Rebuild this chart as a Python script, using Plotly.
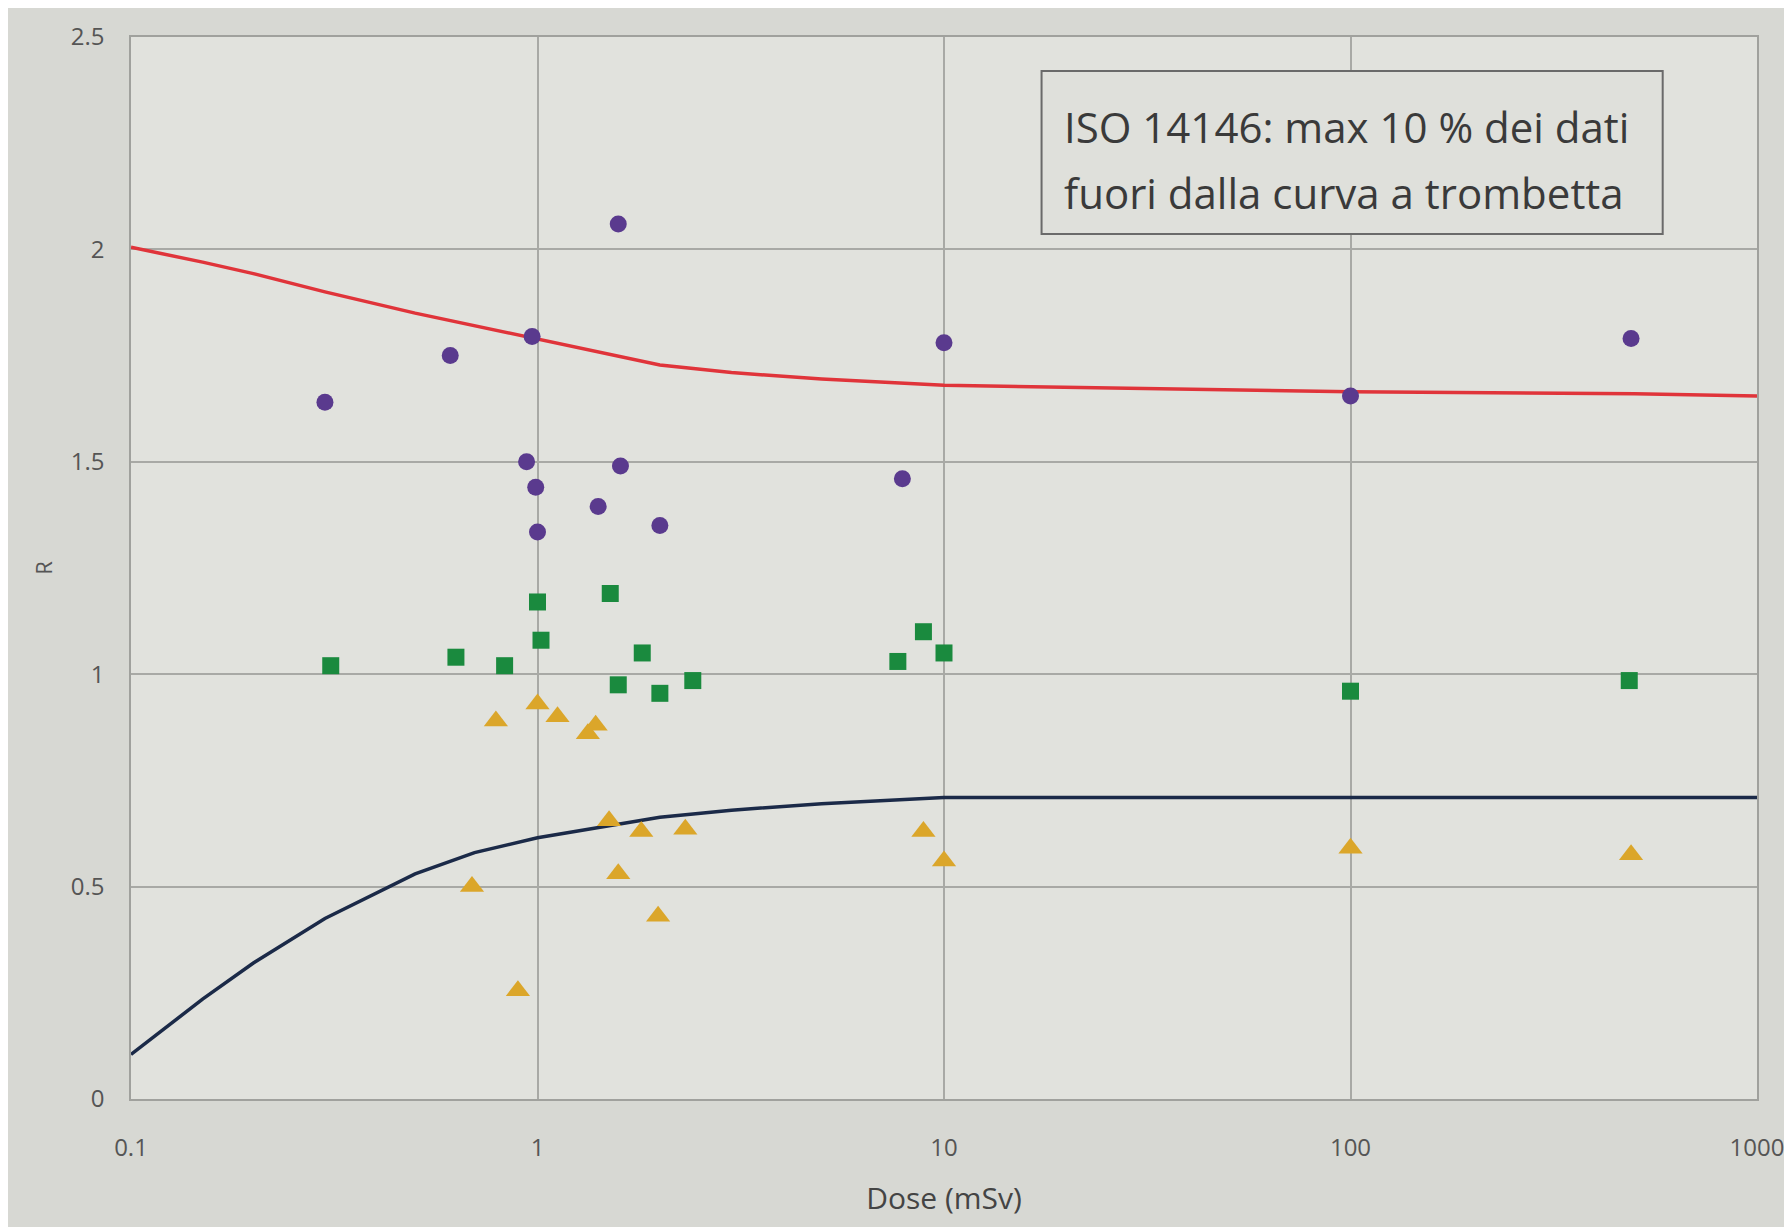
import plotly.graph_objects as go

# ---- data ----
purple_x = [0.30, 0.61, 0.97, 1.58, 0.94, 0.99, 1.0, 1.60, 1.41, 2.0, 7.9, 10, 100, 490]
purple_y = [1.64, 1.75, 1.795, 2.06, 1.50, 1.44, 1.335, 1.49, 1.395, 1.35, 1.46, 1.78, 1.655, 1.79]

green_x = [0.31, 0.63, 0.83, 1.0, 1.02, 1.51, 1.81, 1.58, 2.0, 2.41, 7.7, 8.9, 10, 100, 485]
green_y = [1.02, 1.04, 1.02, 1.17, 1.08, 1.19, 1.05, 0.975, 0.955, 0.985, 1.03, 1.10, 1.05, 0.96, 0.985]

orange_x = [0.79, 1.0, 1.12, 1.33, 1.39, 0.69, 1.80, 2.31, 1.58, 1.98, 0.895, 1.50, 8.9, 10, 100, 490]
orange_y = [0.89, 0.93, 0.90, 0.86, 0.88, 0.50, 0.63, 0.635, 0.53, 0.43, 0.255, 0.655, 0.63, 0.56, 0.59, 0.575]

curve_x = [0.1, 0.15, 0.2, 0.3, 0.5, 0.7, 1, 2, 3, 5, 8, 10, 100, 500, 1000]
upper_y = [2.005, 1.97, 1.943, 1.90, 1.85, 1.82, 1.79, 1.728, 1.71, 1.695, 1.685, 1.68, 1.665, 1.66, 1.655]
lower_y = [0.105, 0.235, 0.32, 0.425, 0.53, 0.58, 0.615, 0.663, 0.68, 0.695, 0.705, 0.71, 0.71, 0.71, 0.71]

x_ticks = [0.1, 1, 10, 100, 1000]
x_ticktext = ["0.1", "1", "10", "100", "1000"]
y_ticks = [0, 0.5, 1, 1.5, 2, 2.5]
y_ticktext = ["0", "0.5", "1", "1.5", "2", "2.5"]

note_lines = ["ISO 14146: max 10 % dei dati", "fuori dalla curva a trombetta"]

fig = go.Figure()
fig.add_trace(go.Scatter(x=curve_x, y=upper_y, mode="lines",
                         line=dict(color="#e0343a", width=3.5), showlegend=False))
fig.add_trace(go.Scatter(x=curve_x, y=lower_y, mode="lines",
                         line=dict(color="#1b2a48", width=3.5), showlegend=False))
fig.add_trace(go.Scatter(x=orange_x, y=orange_y, mode="markers",
                         marker=dict(symbol="triangle-up", size=21, color="#dba62a"),
                         showlegend=False))
fig.add_trace(go.Scatter(x=green_x, y=green_y, mode="markers",
                         marker=dict(symbol="square", size=17, color="#1a8a3e"),
                         showlegend=False))
fig.add_trace(go.Scatter(x=purple_x, y=purple_y, mode="markers",
                         marker=dict(symbol="circle", size=17, color="#5a3a8e"),
                         showlegend=False))

# text box
fig.add_shape(type="rect", xref="paper", yref="paper",
              x0=0.560, x1=0.942, y0=0.8145, y1=0.968,
              line=dict(color="#6a6a6a", width=2), fillcolor="#dfe0db", layer="above")
for txt, yy in zip(note_lines, [0.916, 0.854]):
    fig.add_annotation(x=0.5726, y=yy, xref="paper", yref="paper", xanchor="left", yanchor="middle",
                       text=txt, showarrow=False, align="left",
                       font=dict(family="Open Sans", size=42, color="#3a3a3a"))

fig.update_layout(
    width=1792, height=1227,
    paper_bgcolor="#d7d8d3",
    plot_bgcolor="#e1e2dd",
    margin=dict(l=123, r=43, t=29, b=136),
    font=dict(family="Open Sans", color="#555555"),
    xaxis=dict(type="log", range=[-1, 3], tickvals=x_ticks, ticktext=x_ticktext,
               showgrid=True, gridcolor="#a8a9a5", gridwidth=1.5,
               showline=True, linecolor="#a0a19d", linewidth=1.5, mirror=True,
               ticks="outside", ticklen=26, tickcolor="rgba(0,0,0,0)",
               tickfont=dict(size=24, color="#555555"),
               title=dict(text="Dose (mSv)", standoff=26,
                          font=dict(size=30, color="#444444")),
               zeroline=False),
    yaxis=dict(range=[0, 2.5], tickvals=y_ticks, ticktext=y_ticktext,
               showgrid=True, gridcolor="#a8a9a5", gridwidth=1.5,
               showline=True, linecolor="#a0a19d", linewidth=1.5, mirror=True,
               ticks="outside", ticklen=20, tickcolor="rgba(0,0,0,0)",
               tickfont=dict(size=24, color="#555555"),
               title=dict(text="R", standoff=12, font=dict(size=22, color="#555555")),
               zeroline=False),
)

fig.write_html("out.html")
